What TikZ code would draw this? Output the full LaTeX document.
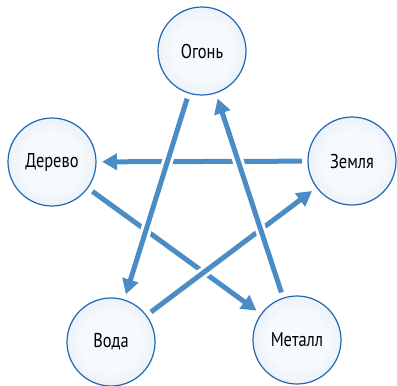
\documentclass[tikz,border=0pt]{standalone}
\usepackage{fontspec}
\setmainfont[FakeStretch=0.82]{PT Sans}
\usetikzlibrary{arrows.meta}
\definecolor{arrowblue}{HTML}{4A8DC6}
\definecolor{rimblue}{HTML}{2168AE}
\definecolor{shA}{HTML}{F7FAFD}
\definecolor{shB}{HTML}{E4EDF7}
\definecolor{shC}{HTML}{CADCEE}
\definecolor{shD}{HTML}{B1CAE4}
\pgfdeclareradialshading{ballshade}{\pgfpoint{0bp}{0bp}}{color(0bp)=(shA); color(16bp)=(shA); color(31bp)=(shB); color(42bp)=(shC); color(50bp)=(shD)}
\tikzset{
  ball/.style={circle, minimum size=88pt, inner sep=0pt, draw=rimblue, line width=1.2pt,
    shading=ballshade, outer sep=6pt, font=\fontsize{20}{23}\selectfont, text=black},
  arr/.style={draw=arrowblue, line width=5pt, -{Triangle[length=15pt,width=16pt]}},
  gap/.style={preaction={draw=white, line width=11pt, -}}
}
\begin{document}
\begin{tikzpicture}[x=1pt,y=-1pt]
\useasboundingbox (0,0) rectangle (397,386);
\node[ball] (ogon) at (202,51) {Огонь};
\node[ball] (derevo) at (52,162) {Дерево};
\node[ball] (zemlya) at (352,161) {Земля};
\node[ball] (voda) at (111,342) {Вода};
\node[ball] (metall) at (297,340) {Металл};
\draw[arr] (zemlya) -- (derevo);
\draw[arr] (derevo) -- (metall);
\draw[arr,gap] (voda) -- (zemlya);
\draw[arr,gap] (ogon) -- (voda);
\draw[arr,gap] (metall) -- (ogon);
\end{tikzpicture}
\end{document}
